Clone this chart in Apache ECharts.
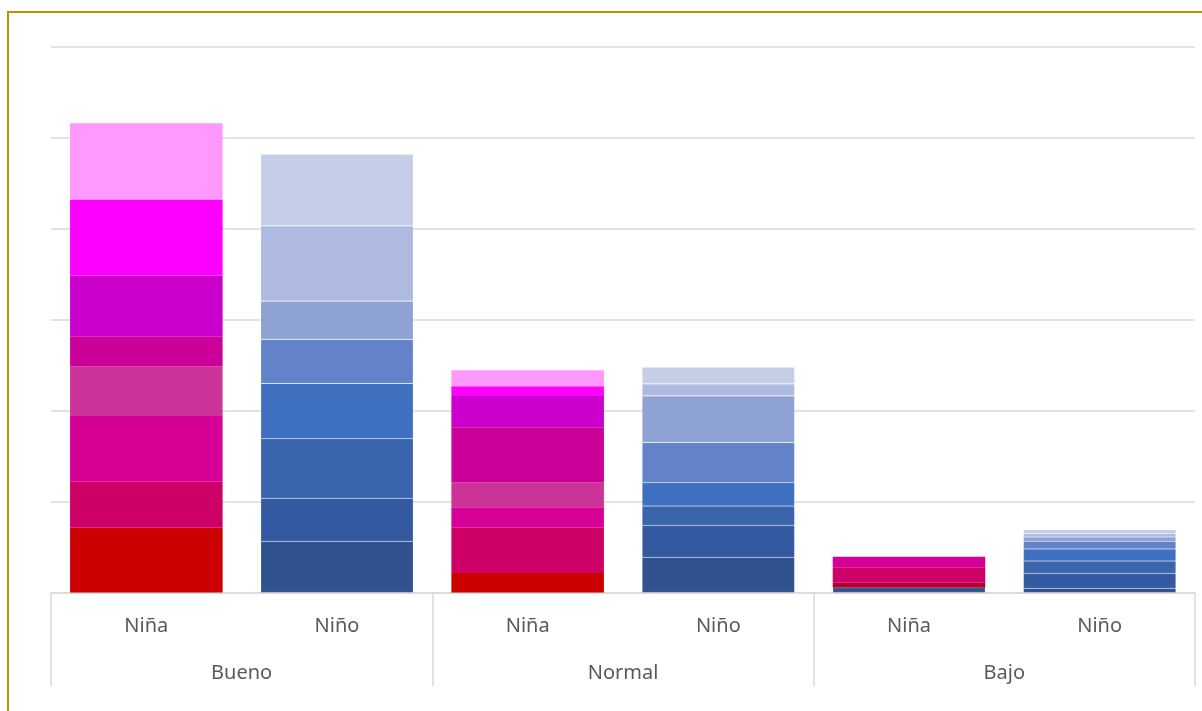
<!DOCTYPE html>
<html>
<head>
<meta charset="utf-8">
<script src="https://cdn.jsdelivr.net/npm/echarts@6/dist/echarts.min.js"></script>
<style>
  html, body { margin: 0; padding: 0; width: 1202px; height: 711px; overflow: hidden; background: #fff; }
  #frame { position: absolute; left: 7px; top: 11px; width: 1300px; height: 800px; border: 2px solid #BF9000; box-sizing: border-box; }
  #chart { position: absolute; left: 0; top: 0; width: 1202px; height: 711px; }
</style>
</head>
<body>
<div id="frame"></div>
<div id="chart"></div>
<script>
// Categories (two-level axis)
const categories = ['Niña', 'Niño', 'Niña', 'Niño', 'Niña', 'Niño'];
const groups = ['Bueno', 'Normal', 'Bajo'];

// Stack segments, bottom -> top (8 levels)
const ninaBueno  = [7.12, 5.05, 7.25, 5.46, 3.30, 6.70, 8.35, 8.38];
const ninaNormal = [2.14, 4.98, 2.27, 2.75, 6.04, 3.44, 1.07, 1.76];
const ninaBajo   = [0.55, 1.69, 1.16, 0, 0, 0, 0, 0];
const ninoBueno  = [5.63, 4.73, 6.55, 6.09, 4.84, 4.21, 8.27, 7.88];
const ninoNormal = [3.87, 3.52, 2.12, 2.56, 4.44, 5.12, 1.32, 1.84];
const ninoBajo   = [0.46, 1.65, 1.35, 1.32, 0.85, 0.47, 0.36, 0.44];
const ninaBajoBase = 0.53; // small dark-blue segment at the base of Niña / Bajo

const ninaColors = ['#CC0000', '#CC0066', '#D60096', '#CC3399', '#CC0099', '#CC00CC', '#FF00FF', '#FF99FF'];
const ninoColors = ['#2F528F', '#335AA1', '#3A64AC', '#3F6FBF', '#6283C9', '#8EA2D4', '#AEBADF', '#C5CEE7'];
const ninaBajoFirstColor = '#AE0030';

const series = [];
for (let i = 0; i < 8; i++) {
  series.push({
    name: 'Niño ' + (i + 1),
    type: 'bar',
    stack: 'total',
    barCategoryGap: '20%',
    xAxisIndex: 0,
    itemStyle: { color: ninoColors[i], borderColor: 'rgba(255,255,255,0.18)', borderWidth: 0.6 },
    data: ['-', ninoBueno[i], '-', ninoNormal[i], i === 0 ? ninaBajoBase : '-', ninoBajo[i]]
  });
}
for (let i = 0; i < 8; i++) {
  const bajo = (i === 0) ? { value: ninaBajo[i], itemStyle: { color: ninaBajoFirstColor } } : ninaBajo[i];
  series.push({
    name: 'Niña ' + (i + 1),
    type: 'bar',
    stack: 'total',
    barCategoryGap: '20%',
    xAxisIndex: 0,
    itemStyle: { color: ninaColors[i] },
    data: [ninaBueno[i], '-', ninaNormal[i], '-', bajo, '-']
  });
}

const chart = echarts.init(document.getElementById('chart'), null, { renderer: 'canvas' });
chart.setOption({
  animation: false,
  backgroundColor: 'transparent',
  textStyle: { fontFamily: 'Noto Sans' },
  grid: { left: 51, right: 7, top: 47, bottom: 118.5, containLabel: false },
  xAxis: [
    {
      type: 'category',
      data: categories,
      position: 'bottom',
      axisLine: { show: true, lineStyle: { color: '#D9D9D9', width: 1.5 } },
      axisTick: { show: false },
      axisLabel: { color: '#595959', fontSize: 20, margin: 24, fontFamily: 'Noto Sans' },
      splitLine: { show: false }
    },
    {
      type: 'category',
      data: groups,
      position: 'bottom',
      axisLine: { show: false },
      axisTick: { show: true, length: 94, lineStyle: { color: '#D9D9D9', width: 1.5 } },
      axisLabel: { color: '#595959', fontSize: 20, margin: 71, fontFamily: 'Noto Sans' },
      splitLine: { show: false }
    }
  ],
  yAxis: {
    type: 'value',
    min: 0,
    max: 60,
    interval: 10,
    axisLabel: { show: false },
    axisLine: { show: false },
    axisTick: { show: false },
    splitLine: { show: true, lineStyle: { color: '#D9D9D9', width: 1.5 } }
  },
  series: series
});
</script>
</body>
</html>
